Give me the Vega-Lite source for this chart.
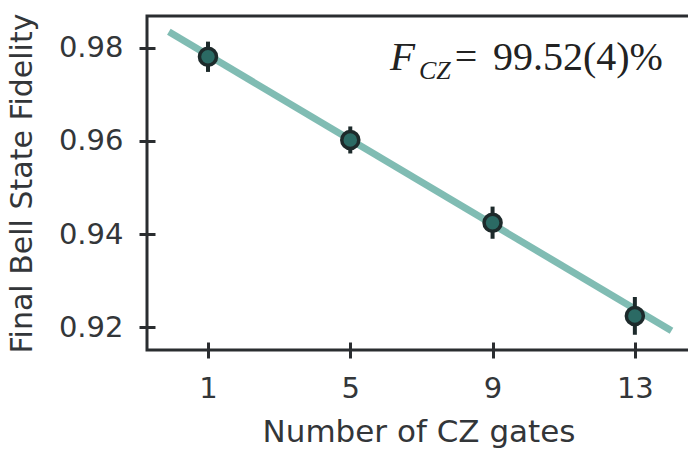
{
  "$schema": "https://vega.github.io/schema/vega-lite/v6.json",
  "width": 543,
  "height": 334,
  "autosize": "none",
  "padding": {"left": 147, "top": 16, "right": 0, "bottom": 100},
  "background": "white",
  "config": {
    "view": {"stroke": "#2a2d30", "strokeWidth": 3},
    "axis": {
      "domain": false,
      "grid": false,
      "tickColor": "#2a2d30",
      "tickWidth": 3,
      "tickSize": 16,
      "offset": -8,
      "labelFont": "DejaVu Sans",
      "labelFontSize": 29,
      "labelColor": "#333639",
      "titleFont": "DejaVu Sans",
      "titleFontWeight": "normal",
      "titleColor": "#333639",
      "labelPadding": 16
    }
  },
  "datasets": {
    "points": [
      {"gates": 1, "fidelity": 0.97807, "lo": 0.9748, "hi": 0.9813},
      {"gates": 5, "fidelity": 0.9602, "lo": 0.9573, "hi": 0.9631},
      {"gates": 9, "fidelity": 0.94243, "lo": 0.9390, "hi": 0.9459},
      {"gates": 13, "fidelity": 0.92243, "lo": 0.9184, "hi": 0.9265}
    ],
    "fit": [
      {"gates": -0.1, "fidelity": 0.9834},
      {"gates": 14.03, "fidelity": 0.91927}
    ]
  },
  "layer": [
    {
      "data": {"name": "fit"},
      "mark": {"type": "line", "color": "#80bcb3", "strokeWidth": 7, "strokeCap": "butt", "clip": true},
      "encoding": {
        "x": {
          "field": "gates", "type": "quantitative",
          "scale": {"domain": [-0.7144, 14.55], "nice": false, "zero": false},
          "axis": {"values": [1, 5, 9, 13], "title": "Number of CZ gates", "titleFontSize": 31, "titlePadding": 14}
        },
        "y": {
          "field": "fidelity", "type": "quantitative",
          "scale": {"domain": [0.91513, 0.9868], "nice": false, "zero": false},
          "axis": {"values": [0.92, 0.94, 0.96, 0.98], "format": ".2f", "title": "Final Bell State Fidelity", "titleFontSize": 30, "titlePadding": 21}
        }
      }
    },
    {
      "data": {"name": "points"},
      "mark": {"type": "rule", "color": "#1d2a2b", "strokeWidth": 4},
      "encoding": {
        "x": {"field": "gates", "type": "quantitative"},
        "y": {"field": "lo", "type": "quantitative"},
        "y2": {"field": "hi"}
      }
    },
    {
      "data": {"name": "points"},
      "mark": {"type": "point", "shape": "circle", "filled": true, "fill": "#2b6a64", "stroke": "#1d2a2b", "strokeWidth": 3.5, "size": 290, "opacity": 1},
      "encoding": {
        "x": {"field": "gates", "type": "quantitative"},
        "y": {"field": "fidelity", "type": "quantitative"}
      }
    },
    {
      "data": {"values": [{}]},
      "mark": {"type": "text", "text": "F", "font": "Liberation Serif", "fontStyle": "italic", "fontSize": 41, "align": "left", "baseline": "alphabetic", "color": "#222"},
      "encoding": {"x": {"datum": 6.115}, "y": {"datum": 0.97521}}
    },
    {
      "data": {"values": [{}]},
      "mark": {"type": "text", "text": "CZ", "font": "Liberation Serif", "fontStyle": "italic", "fontSize": 26, "align": "left", "baseline": "alphabetic", "color": "#222"},
      "encoding": {"x": {"datum": 6.93}, "y": {"datum": 0.97328}}
    },
    {
      "data": {"values": [{}]},
      "mark": {"type": "text", "text": "=", "font": "Liberation Serif", "fontSize": 40, "align": "left", "baseline": "alphabetic", "color": "#222"},
      "encoding": {"x": {"datum": 7.94}, "y": {"datum": 0.97521}}
    },
    {
      "data": {"values": [{}]},
      "mark": {"type": "text", "text": "99.52(4)%", "font": "Liberation Serif", "fontSize": 40, "align": "left", "baseline": "alphabetic", "color": "#222"},
      "encoding": {"x": {"datum": 9.01}, "y": {"datum": 0.97521}}
    }
  ]
}
